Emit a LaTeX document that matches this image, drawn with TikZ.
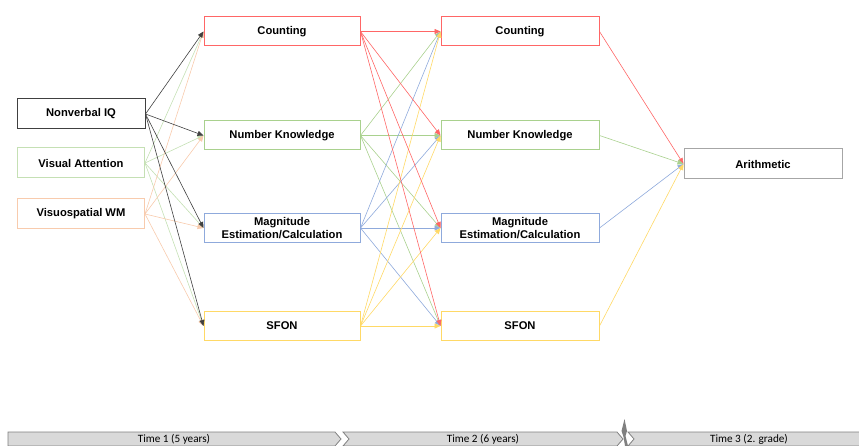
\documentclass[tikz,border=0pt]{standalone}
\usepackage{fontspec}
\setmainfont{Liberation Sans}
\newfontfamily\calibri{Carlito}
\usetikzlibrary{arrows.meta}
\definecolor{iqgray}{RGB}{64,64,64}
\definecolor{vagreen}{RGB}{197,224,180}
\definecolor{wmorange}{RGB}{248,203,173}
\definecolor{cntred}{RGB}{255,102,102}
\definecolor{nkgreen}{RGB}{169,209,142}
\definecolor{magblue}{RGB}{143,170,220}
\definecolor{sfyellow}{RGB}{255,217,102}
\definecolor{argray}{RGB}{166,166,166}
\definecolor{bandgray}{RGB}{217,217,217}
\definecolor{bandline}{RGB}{128,128,128}

\begin{document}
\begin{tikzpicture}[x=1pt,y=-1pt]
      \tikzset{
        node distance=238pt,
        box/.style={rectangle,draw,line width=1pt,inner sep=0pt,minimum width=156pt,minimum height=29pt,align=center,font=\fontsize{11.2}{13.2}\selectfont\bfseries},
        arr/.style={-{Triangle[length=6pt,width=5pt]},line width=0.6pt},
        band/.style={fill=bandgray,draw=bandline,line width=0.8pt},
        period/.style={inner sep=0pt,font=\calibri\fontsize{11.2}{12}\selectfont}
      }
      \useasboundingbox (0,0) rectangle (859,446);

      \node[box,draw=iqgray,minimum width=128pt,minimum height=30pt] (iq) at (81,114) {Nonverbal IQ};
      \node[box,draw=vagreen,minimum width=127pt,minimum height=30pt,below of=iq,node distance=49pt] (va) {Visual Attention};
      \node[box,draw=wmorange,minimum width=127pt,minimum height=30pt,below of=va,node distance=51pt] (wm) {Visuospatial WM};

      \node[box,draw=cntred] (c1) at (282,31.5) {Counting};
      \node[box,draw=nkgreen,below of=c1,node distance=104pt] (nk1) {Number Knowledge};
      \node[box,draw=magblue,below of=nk1,node distance=92.5pt] (mag1) {Magnitude\\Estimation/Calculation};
      \node[box,draw=sfyellow,below of=mag1,node distance=98pt] (sf1) {SFON};

      \node[box,draw=cntred,minimum width=158pt,right of=c1] (c2) {Counting};
      \node[box,draw=nkgreen,minimum width=158pt,right of=nk1] (nk2) {Number Knowledge};
      \node[box,draw=magblue,minimum width=158pt,right of=mag1] (mag2) {Magnitude\\Estimation/Calculation};
      \node[box,draw=sfyellow,minimum width=158pt,right of=sf1] (sf2) {SFON};

      \node[box,draw=argray,minimum width=158pt,minimum height=30pt] (ar) at (763,164) {Arithmetic};

      \foreach \s/\c in {va/vagreen,wm/wmorange,iq/iqgray}
        \foreach \t in {c1,nk1,mag1,sf1}
          \draw[arr,\c] (\s.east) -- (\t.west);

      \foreach \s/\c in {nk1/nkgreen,mag1/magblue,sf1/sfyellow,c1/cntred}
        \foreach \t in {c2,nk2,mag2,sf2}
          \draw[arr,\c] (\s.east) -- (\t.west);

      \draw (c2.east) edge[arr,cntred] (ar.west)
            (nk2.east) edge[arr,nkgreen] (ar.west)
            (mag2.east) edge[arr,magblue] (ar.west)
            (sf2.east) edge[arr,sfyellow] (ar.west);

      \draw[band] (8,432) -- (335,432) -- (341,439) -- (335,446) -- (8,446) -- cycle;
      \draw[band] (343,432) -- (617,432) -- (623,439) -- (617,446) -- (343,446) -- (349,439) -- cycle;
      \draw[band] (628,432) -- (862,432) -- (862,446) -- (628,446) -- (634,439) -- cycle;
      \fill[bandline] (624.5,419) -- (627,431) -- (625.5,436) -- (628,446) -- (625,446) -- (623.5,437) -- (621.5,431) -- cycle;

      \node[period] (t1) at (174,439) {Time 1 (5 years)};
      \node[period] (t2) at (483,439) {Time 2 (6 years)};
      \node[period] (t3) at (749,439) {Time 3 (2. grade)};
    \end{tikzpicture}
\end{document}
